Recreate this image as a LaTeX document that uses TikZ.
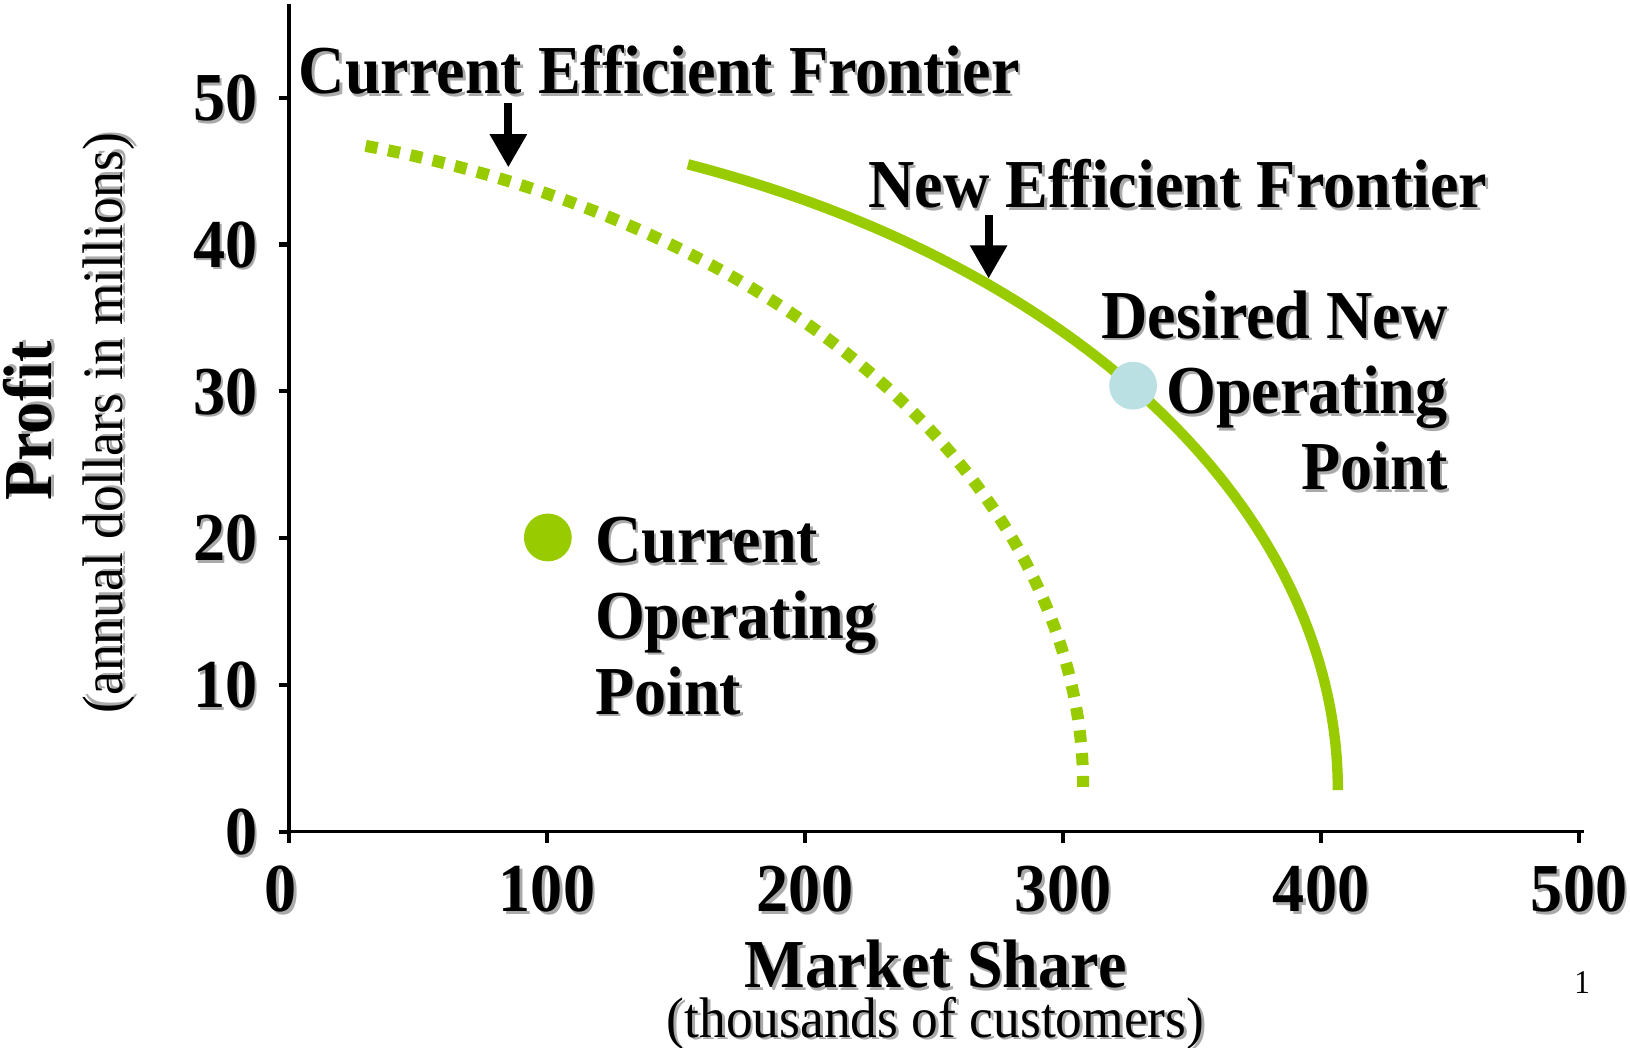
\documentclass[tikz,border=0pt]{standalone}
\usepackage{fontspec}
\setmainfont{Liberation Serif}[FakeStretch=0.935]
\usetikzlibrary{arrows.meta}
\definecolor{lime}{RGB}{153,204,0}
\definecolor{pale}{RGB}{186,224,228}
\definecolor{shd}{RGB}{170,170,170}
\newcommand\shad[1]{\leavevmode\rlap{\hspace{1.2pt}\raisebox{-1.2pt}{\textcolor{shd}{#1}}}#1}
\tikzset{
  big/.style={font=\fontsize{33}{36.5}\selectfont\bfseries, inner sep=0pt},
  sub/.style={font=\fontsize{27.5}{30}\selectfont, inner sep=0pt},
  axisline/.style={line width=1.5pt, line cap=rect},
  tickmark/.style={line width=2pt},
  arr/.style={line width=3.8pt, -{Triangle[width=17pt,length=16pt]}},
  frontier/.style={lime, line width=5pt},
  dotfrontier/.style={lime, line width=5.8pt, dash pattern=on 5.8pt off 5.2pt},
}
\begin{document}
\begin{tikzpicture}[x=0.5pt,y=-0.5pt]
\useasboundingbox (0,0) rectangle (1568,1008);
% axes
\coordinate (ytop) at (278,5);
\coordinate (orig) at (278,800);
\coordinate (xend) at (1522,800);
\draw[axisline] (ytop) -- (orig) -- (xend);
% y ticks and labels
\foreach \v/\y in {0/800,10/658.8,20/517.6,30/376.4,40/235.2,50/94}{
  \draw[tickmark] (268,\y) -- (278,\y);
  \node[big, anchor=base east] (yl\v) at (248,\y+22) {\shad{\v}};
}
% x ticks and labels
\foreach \v/\x in {100/526.2,200/774.4,300/1022.6,400/1270.8,500/1519}{
  \draw[tickmark] (\x,800) -- (\x,811);
  \node[big, anchor=base] (xl\v) at (\x,877) {\shad{\v}};
}
\draw[tickmark] (278,800) -- (278,811);
\node[big, anchor=base] (xl0) at (270,877) {\shad{0}};
% axis titles
\node[big, anchor=base] (xtitle) at (900,950) {\shad{Market Share}};
\node[sub, anchor=base] (xsub) at (900,998) {\shad{(thousands of customers)}};
\node[big, rotate=90] (ytitle) at (28,405) {\shad{Profit}};
\node[sub, rotate=90] (ysub) at (106,407) {\shad{(annual dollars in millions)}};
% frontiers
\draw[dotfrontier] plot[domain=74.5:0, samples=120] ({100+942*cos(\x)},{757-640*sin(\x)});
\draw[frontier] plot[domain=68.5:0, samples=120] ({300+987*cos(\x)},{760-647*sin(\x)});
% points
\fill[pale] (1090,371) circle[radius=23] node (dpt) {};
\fill[lime] (527,517) circle[radius=23] node (cpt) {};
% labels
\node[big, anchor=base west] (curlab) at (287,90) {\shad{Current Efficient Frontier}};
\node[big, anchor=base west] (newlab) at (835,200) {\shad{New Efficient Frontier}};
\coordinate (ca1) at (489,99);
\coordinate (ca2) at (489,161);
\coordinate (na1) at (951,207);
\coordinate (na2) at (951,268);
\draw[arr] (ca1) -- (ca2);
\draw[arr] (na1) -- (na2);
\node[big, anchor=north east, align=right] (dlab) at (1393,279) {\shad{Desired New}\\\shad{Operating}\\\shad{Point}};
\node[big, anchor=north west, align=left] (clab) at (572,497) {\shad{Current}\\\shad{Operating}\\\shad{Point}};
\node[font=\fontsize{16}{18}\selectfont, inner sep=0pt] (pg) at (1522,945) {1};
\end{tikzpicture}
\end{document}
